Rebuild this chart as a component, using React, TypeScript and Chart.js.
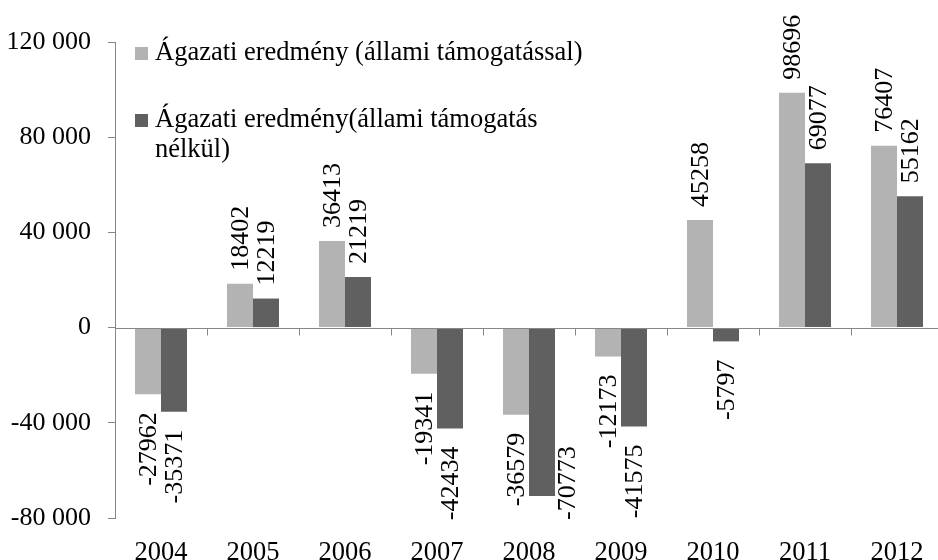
import React, { useEffect, useRef } from "react";
import { Chart, registerables } from "chart.js";

Chart.register(...registerables);

const categories = ["2004", "2005", "2006", "2007", "2008", "2009", "2010", "2011", "2012"];
const withSubsidy = [-27962, 18402, 36413, -19341, -36579, -12173, 45258, 98696, 76407];
const withoutSubsidy = [-35371, 12219, 21219, -42434, -70773, -41575, -5797, 69077, 55162];
const legendLines1 = ["Ágazati eredmény (állami támogatással)"];
const legendLines2 = ["Ágazati eredmény(állami támogatás", "nélkül)"];
const yMin = -80000;
const yMax = 120000;
const yStep = 40000;

const FONT = "'Liberation Serif', 'Times New Roman', serif";
const AXIS = "#868686";
const LIGHT = "#b3b3b3";
const DARK = "#606060";

function fmt(v: number): string {
  const s = String(Math.abs(v)).replace(/\B(?=(\d{3})+(?!\d))/g, " ");
  return (v < 0 ? "-" : "") + s;
}

const zeroLinePlugin = {
  id: "zeroLine",
  afterDatasetsDraw(chart: any) {
    const { ctx, chartArea, scales } = chart;
    const y0 = Math.round(scales.y.getPixelForValue(0)) + 0.5;
    ctx.save();
    ctx.strokeStyle = AXIS;
    ctx.lineWidth = 1;
    ctx.beginPath();
    ctx.moveTo(chartArea.left, y0);
    ctx.lineTo(chartArea.right, y0);
    const n = categories.length;
    const half = (scales.x.getPixelForValue(1) - scales.x.getPixelForValue(0)) / 2;
    for (let i = 0; i < n; i++) {
      const x = Math.round(scales.x.getPixelForValue(i) + half) + 0.5;
      ctx.moveTo(x, y0);
      ctx.lineTo(x, y0 + 7);
    }
    ctx.stroke();
    ctx.restore();
  },
};

const valueLabelPlugin = {
  id: "valueLabels",
  afterDatasetsDraw(chart: any) {
    const { ctx, chartArea } = chart;
    ctx.save();
    ctx.font = `26px ${FONT}`;
    ctx.fillStyle = "#000";
    ctx.textBaseline = "middle";
    chart.data.datasets.forEach((ds: any, di: number) => {
      const meta = chart.getDatasetMeta(di);
      meta.data.forEach((el: any, i: number) => {
        const v = ds.data[i];
        const txt = String(v);
        const len = ctx.measureText(txt).width;
        ctx.save();
        if (v >= 0) {
          ctx.translate(el.x + 1, el.y - 13);
          ctx.rotate(-Math.PI / 2);
          ctx.textAlign = "left";
        } else {
          let ax = el.x + 1;
          let ay = el.y + 18;
          if (ay + len > chartArea.bottom + 4) {
            // does not fit below the bar: put it beside the bar, ending at the plot bottom
            ax = el.x + el.width;
            ay = chartArea.bottom + 2 - len;
          }
          ctx.translate(ax, ay);
          ctx.rotate(-Math.PI / 2);
          ctx.textAlign = "right";
        }
        ctx.fillText(txt, 0, 0);
        ctx.restore();
      });
    });
    ctx.restore();
  },
};

const legendPlugin = {
  id: "customLegend",
  afterDraw(chart: any) {
    const { ctx } = chart;
    ctx.save();
    ctx.font = `26.5px ${FONT}`;
    ctx.fillStyle = "#000";
    ctx.textBaseline = "alphabetic";
    ctx.textAlign = "left";
    const items = [
      { color: LIGHT, lines: legendLines1, y: 47 },
      { color: DARK, lines: legendLines2, y: 114 },
    ];
    items.forEach((it) => {
      ctx.fillStyle = it.color;
      ctx.fillRect(135, it.y, 13, 13);
      ctx.fillStyle = "#000";
      it.lines.forEach((ln, k) => {
        ctx.fillText(ln, 155, it.y + 13 + k * 30);
      });
    });
    ctx.restore();
  },
};

export default function App() {
  const ref = useRef<HTMLCanvasElement | null>(null);
  useEffect(() => {
    if (!ref.current) return;
    const chart = new Chart(ref.current, {
      type: "bar",
      data: {
        labels: categories,
        datasets: [
          {
            label: legendLines1.join(" "),
            data: withSubsidy,
            backgroundColor: LIGHT,
            borderWidth: 0,
            categoryPercentage: 0.565,
            barPercentage: 1,
          },
          {
            label: legendLines2.join(" "),
            data: withoutSubsidy,
            backgroundColor: DARK,
            borderWidth: 0,
            categoryPercentage: 0.565,
            barPercentage: 1,
          },
        ],
      },
      options: {
        responsive: false,
        animation: false,
        devicePixelRatio: 1,
        layout: { padding: { top: 42, right: 0, left: 0, bottom: 0 } },
        plugins: {
          legend: { display: false },
          tooltip: { enabled: false },
        },
        scales: {
          x: {
            grid: { display: false, drawTicks: false },
            border: { display: false },
            ticks: {
              color: "#000",
              font: { family: FONT, size: 26.5 },
              padding: 19,
              maxRotation: 0,
            },
            afterFit: (s: any) => {
              s.height = 42;
            },
          },
          y: {
            min: yMin,
            max: yMax,
            grid: {
              drawOnChartArea: false,
              drawTicks: true,
              tickLength: 7,
              color: AXIS,
            },
            border: { display: true, color: AXIS, width: 1 },
            ticks: {
              stepSize: yStep,
              color: "#000",
              font: { family: FONT, size: 26 },
              padding: 17,
              callback: (v: any) => fmt(Number(v)),
            },
            afterFit: (s: any) => {
              s.width = 115;
            },
          },
        },
      },
      plugins: [zeroLinePlugin, valueLabelPlugin, legendPlugin],
    } as any);
    return () => chart.destroy();
  }, []);
  return (
    <div style={{ position: "absolute", left: 0, top: 0, width: 938, height: 560, overflow: "hidden", background: "#fff" }}>
      <canvas ref={ref} width={943} height={560} style={{ display: "block" }} />
    </div>
  );
}
